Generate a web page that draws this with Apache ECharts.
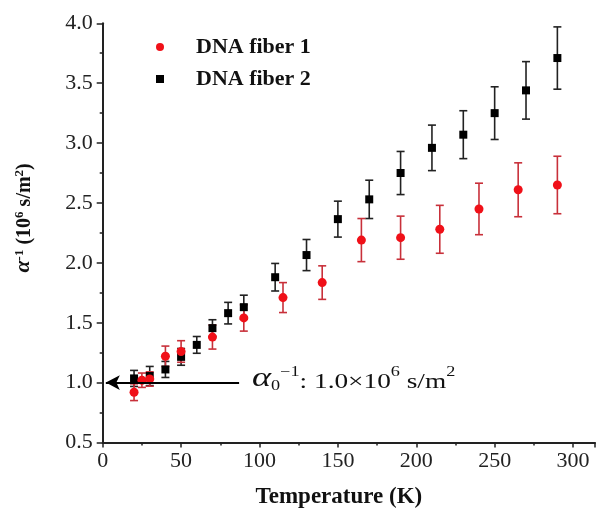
<!DOCTYPE html>
<html><head><meta charset="utf-8">
<script src="https://cdn.jsdelivr.net/npm/echarts@6/dist/echarts.min.js"></script>
<style>html,body{margin:0;padding:0;background:#fff}#c{width:598px;height:515px}</style>
</head><body><div id="c"></div>
<script>
// ---- data ----
const fiber1T = [20, 25, 30, 40, 50, 70, 90, 115, 140, 165, 190, 215, 240, 265, 290];
const fiber1V = [0.92, 1.02, 1.03, 1.22, 1.26, 1.38, 1.54, 1.71, 1.835, 2.19, 2.21, 2.28, 2.45, 2.61, 2.65];
const fiber1E = [0.07, 0.06, 0.06, 0.085, 0.09, 0.1, 0.11, 0.125, 0.14, 0.18, 0.18, 0.2, 0.215, 0.225, 0.24];
const fiber2T = [20, 30, 40, 50, 60, 70, 80, 90, 110, 130, 150, 170, 190, 210, 230, 250, 270, 290];
const fiber2V = [1.035, 1.055, 1.11, 1.215, 1.315, 1.455, 1.58, 1.63, 1.88, 2.065, 2.365, 2.53, 2.75, 2.96, 3.07, 3.25, 3.44, 3.71];
const fiber2E = [0.067, 0.08, 0.067, 0.07, 0.07, 0.07, 0.09, 0.1, 0.115, 0.13, 0.15, 0.16, 0.18, 0.19, 0.2, 0.22, 0.24, 0.26];
const seriesNames = ['DNA fiber 1', 'DNA fiber 2'];
const alpha0 = 1.0;          // annotated value
const arrowFromT = 87;       // arrow tail (K)
const arrowToT = 2;          // arrow head (K)

const FONT = 'Liberation Serif, Times New Roman, serif';
const RED = '#f01018', RED_BAR = '#c8303a', BLACK = '#000000', BLACK_BAR = '#222222';

function pts(T, V) { return T.map((t, i) => [t, V[i]]); }
function bars(T, V, E) { return T.map((t, i) => [t, V[i] - E[i], V[i] + E[i]]); }

function errRender(color) {
  return function (params, api) {
    const lo = api.coord([api.value(0), api.value(1)]);
    const hi = api.coord([api.value(0), api.value(2)]);
    const w = 4;
    const style = { stroke: color, lineWidth: 1.6 };
    return {
      type: 'group', children: [
        { type: 'line', shape: { x1: lo[0], y1: lo[1], x2: hi[0], y2: hi[1] }, style },
        { type: 'line', shape: { x1: lo[0] - w, y1: lo[1], x2: lo[0] + w, y2: lo[1] }, style },
        { type: 'line', shape: { x1: hi[0] - w, y1: hi[1], x2: hi[0] + w, y2: hi[1] }, style }
      ]
    };
  };
}

const chart = echarts.init(document.getElementById('c'), null, { renderer: 'canvas' });
chart.setOption({
  animation: false,
  backgroundColor: '#fff',
  grid: { left: 102.7, top: 23.3, bottom: 72.5, right: 0, containLabel: false },
  legend: {
    orient: 'vertical', left: 151, top: 31, itemGap: 10,
    itemWidth: 8, itemHeight: 8,
    textStyle: { fontFamily: FONT, fontWeight: 'bold', fontSize: 22, color: '#111', padding: [0, 0, 0, 27] },
    data: [{ name: seriesNames[0], icon: 'circle' }, { name: seriesNames[1], icon: 'rect' }]
  },
  xAxis: {
    type: 'value', min: 0, max: 314, interval: 50,
    axisLine: { show: true, lineStyle: { color: '#222', width: 2 } },
    axisTick: { show: true, inside: false, length: 5, lineStyle: { color: '#222', width: 1.5 } },
    minorTick: { show: true, splitNumber: 2, length: 3, lineStyle: { color: '#222', width: 1.5 } },
    splitLine: { show: false },
    axisLabel: {
      margin: 8, fontFamily: FONT, fontSize: 22, color: '#222',
      formatter: v => (v % 50 === 0 ? String(v) : '')
    },
    name: 'Temperature (K)', nameLocation: 'middle', nameGap: 43,
    nameTextStyle: { fontFamily: FONT, fontWeight: 'bold', fontSize: 23, color: '#111', padding: [0, 20, 0, 0] }
  },
  yAxis: {
    type: 'value', min: 0.5, max: 4.0, interval: 0.5,
    axisLine: { show: true, lineStyle: { color: '#222', width: 2 } },
    axisTick: { show: true, inside: false, length: 6, lineStyle: { color: '#222', width: 1.5 } },
    minorTick: { show: true, splitNumber: 2, length: 3, lineStyle: { color: '#222', width: 1.5 } },
    splitLine: { show: false },
    axisLabel: { margin: 10, fontFamily: FONT, fontSize: 22, color: '#222', formatter: v => v.toFixed(1) },
    name: '{g|α}{sp|-1}{n| (10}{sp|6}{n| s/m}{sp|2}{n|)}',
    nameLocation: 'middle', nameGap: 68,
    nameTextStyle: {
      fontFamily: FONT, fontWeight: 'bold', fontSize: 20, color: '#111',
      padding: [0, 0, 0, 30],
      rich: {
        g: { fontFamily: FONT, fontWeight: 'bold', fontStyle: 'italic', fontSize: 22, lineHeight: 22, verticalAlign: 'bottom' },
        n: { fontFamily: FONT, fontWeight: 'bold', fontSize: 20, lineHeight: 22, verticalAlign: 'bottom' },
        sp: { fontFamily: FONT, fontWeight: 'bold', fontSize: 13, lineHeight: 13, verticalAlign: 'top' }
      }
    }
  },
  graphic: [{
    type: 'text', left: 252, top: 365, silent: true, scaleX: 1.3,
    style: {
      text: '{g|α}{sb|0}{sp|−1}{n|: 1.0×10}{sp|6}{n| s/m}{sp|2}',
      fill: '#111',
      rich: {
        g: { fontFamily: FONT, fontStyle: 'italic', fontSize: 28, lineHeight: 28, verticalAlign: 'bottom', fill: '#111' },
        n: { fontFamily: FONT, fontSize: 21, lineHeight: 24, verticalAlign: 'bottom', fill: '#111' },
        sp: { fontFamily: FONT, fontSize: 14, lineHeight: 14, verticalAlign: 'top', fill: '#111' },
        sb: { fontFamily: FONT, fontSize: 14, lineHeight: 14, verticalAlign: 'bottom', fill: '#111' }
      }
    }
  }],
  series: [
    {
      name: seriesNames[1] + ' err', type: 'custom', renderItem: errRender(BLACK_BAR),
      encode: { x: 0, y: [1, 2] }, data: bars(fiber2T, fiber2V, fiber2E), z: 2, silent: true
    },
    {
      name: seriesNames[0] + ' err', type: 'custom', renderItem: errRender(RED_BAR),
      encode: { x: 0, y: [1, 2] }, data: bars(fiber1T, fiber1V, fiber1E), z: 2, silent: true
    },
    {
      name: seriesNames[1], type: 'scatter', symbol: 'rect', symbolSize: 8,
      itemStyle: { color: BLACK, opacity: 1 }, data: pts(fiber2T, fiber2V), z: 3
    },
    {
      name: seriesNames[0], type: 'scatter', symbol: 'circle', symbolSize: 9,
      itemStyle: { color: RED, opacity: 1 }, data: pts(fiber1T, fiber1V), z: 4,
      markLine: {
        silent: true, symbol: ['none', 'arrow'], symbolSize: [11, 14],
        lineStyle: { color: '#000', width: 2, type: 'solid' },
        label: { show: false },
        data: [[{ coord: [arrowFromT, alpha0] }, { coord: [arrowToT, alpha0] }]]
      }
    }
  ]
});
</script>
</body></html>
